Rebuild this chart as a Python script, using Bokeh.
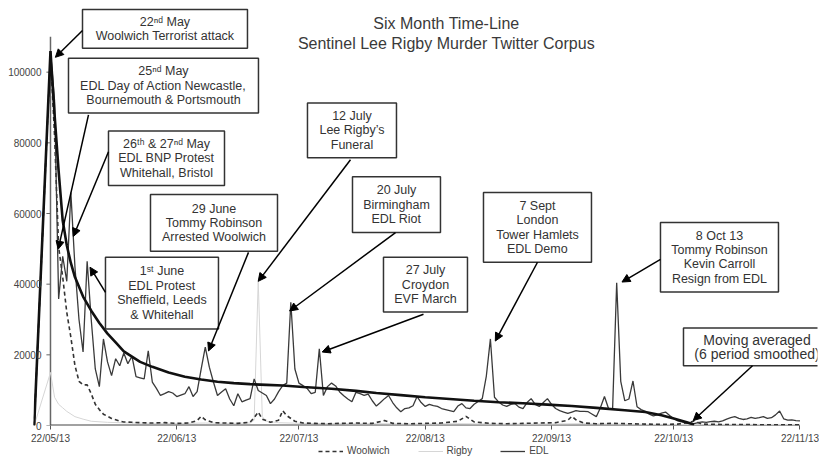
import datetime as dt
from bokeh.plotting import figure
from bokeh.layouts import column
from bokeh.models import (Range1d, FixedTicker, DatetimeTickFormatter, BasicTickFormatter,
                          Arrow, NormalHead, Legend, LegendItem, ColumnDataSource)
from bokeh.core.properties import value
from bokeh.embed import file_html
from bokeh.resources import INLINE

# ---------------- data ----------------
START_DATE = dt.datetime(2013, 5, 22)          # day 0
X_TICK_DATES = ["2013-05-22", "2013-06-22", "2013-07-22", "2013-08-22",
                "2013-09-22", "2013-10-22", "2013-11-22"]
Y_TICKS = [0, 20000, 40000, 60000, 80000, 100000]
Y_AXIS_TOP = 110000

# EDL (daily, day offsets from 22/05/13)
edl_days = [-4] + list(range(185))
edl_vals = [0,
    106000, 92000, 35800, 47900, 40800, 65900, 45000, 30000, 20800, 46500,
    30000, 16000, 11000, 24500, 18000, 14100, 18900, 16900, 20500, 17500,
    19600, 13800, 13500, 13200, 21100, 12300, 10500, 8500, 9000, 9600,
    9200, 8200, 8600, 9000, 11000, 8200, 9600, 16000, 22200, 16500,
    12300, 8500, 9500, 10400, 7500, 5600, 9000, 6700, 7200, 7600,
    13200, 9900, 9200, 8500, 6200, 7500, 9600, 11300, 12000, 34900,
    16000, 12000, 11300, 10500, 9000, 9400, 21700, 8500, 11000, 12000,
    11200, 9500, 8400, 7500, 6700, 9400, 9000, 8500, 8900, 7000,
    5500, 6500, 7600, 8500, 6500, 5000, 3900, 4800, 5000, 5600,
    8200, 6500, 5400, 6000, 5600, 5400, 4800, 4500, 4200, 3900,
    5500, 6200, 5000, 4800, 6000, 6800, 7600, 14000, 24500, 8000,
    6700, 5800, 5400, 6000, 6200, 5200, 4800, 6500, 7600, 6000,
    5400, 6500, 7600, 6000, 4800, 4200, 3800, 3400, 3800, 4200,
    4000, 4000, 3900, 3200, 2500, 5000, 8200, 4800, 4700, 40400,
    12500, 7000, 7500, 12600, 5300, 4500, 4000, 3200, 2700, 3000,
    3500, 3800, 2800, 2000, 1300, 1000, 700, 500, 500, 800,
    1000, 900, 1100, 1200, 1000, 1300, 1800, 2200, 2500, 2000,
    1700, 1900, 2300, 2000, 2200, 2500, 2000, 2200, 3000, 4100,
    1900, 1500, 1600, 1400, 1300]

# Woolwich
woolwich_days = [-4, 0, 1, 2, 3, 4, 5, 6, 7, 8, 9, 10, 11, 12, 13, 14, 15, 16, 17, 18,
                 20, 22, 25, 28, 31, 34, 36, 37, 38, 40, 43, 46, 49, 50, 51, 52, 54, 56,
                 57, 58, 60, 62, 65, 68, 71, 75, 79, 82, 84, 88, 92, 96, 100, 102, 104,
                 108, 112, 116, 120, 124, 127, 128, 129, 131, 134, 138, 142, 146, 150,
                 154, 157, 158, 160, 165, 170, 175, 180, 184]
woolwich_vals = [0, 105000, 82000, 50500, 42000, 32000, 25000, 17000, 12500, 11500, 11500,
                 9000, 6000, 4500, 3200, 2600, 2000, 1600, 1200, 1000,
                 900, 800, 700, 800, 600, 700, 1400, 2600, 1600, 800, 700, 600, 900, 2200,
                 3800, 1800, 900, 1500, 4200, 2800, 1200, 700, 600, 500, 600, 700, 600,
                 1400, 600, 500, 600, 700, 1200, 2600, 1000, 600, 500, 600, 700, 800,
                 1500, 2600, 1600, 700, 500, 600, 500, 400, 300, 400, 900, 1300, 400,
                 300, 300, 200, 200, 200]

# Rigby
rigby_days = [-4, 0, 1, 2, 3, 4, 6, 8, 10, 14, 20, 26, 32, 38, 44, 49, 50, 51, 52, 53,
              56, 62, 70, 80, 90, 100, 110, 120, 130, 140, 150, 160, 170, 184]
rigby_vals = [0, 15000, 8000, 6000, 5000, 4000, 2500, 1800, 1200, 900, 700, 600, 600,
              700, 600, 700, 1500, 41000, 2500, 1200, 800, 600, 500, 500, 400, 500, 400,
              400, 500, 400, 300, 300, 300, 300]

# Moving average (6 period smoothed)
ma_days = [-4, 0, 1, 2, 3, 4, 5, 6, 8, 10, 12, 14, 16, 18, 20, 22, 25, 29, 33, 37, 41,
           45, 49, 53, 57, 62, 69, 75, 80, 86, 92, 98, 104, 110, 116, 122, 128, 134,
           141, 146, 150, 153, 156, 158]
ma_vals = [0, 106000, 88000, 72000, 58000, 51000, 46000, 42000, 36500, 32500, 29000,
           26000, 23500, 21000, 19500, 18000, 16600, 15000, 13800, 13000, 12400, 12000,
           11700, 11500, 11300, 10900, 10400, 9800, 9200, 8600, 8000, 7500, 7000, 6600,
           6300, 5900, 5500, 5000, 4300, 3800, 2900, 2000, 1000, 300]

# Annotations: text lines, box (left day, right day, top, bottom), arrow (from -> to)
ann_lines = [
    ["22ⁿᵈ May", "Woolwich Terrorist attack"],
    ["25ⁿᵈ May", "EDL Day of Action Newcastle,", "Bournemouth & Portsmouth"],
    ["26ᵗʰ & 27ⁿᵈ May", "EDL BNP Protest", "Whitehall, Bristol"],
    ["29 June", "Tommy Robinson", "Arrested Woolwich"],
    ["1ˢᵗ June", "EDL Protest", "Sheffield, Leeds", "& Whitehall"],
    ["12 July", "Lee Rigby’s", "Funeral"],
    ["20 July", "Birmingham", "EDL Riot"],
    ["27 July", "Croydon", "EVF March"],
    ["7 Sept", "London", "Tower Hamlets", "EDL Demo"],
    ["8 Oct 13", "Tommy Robinson", "Kevin Carroll", "Resign from EDL"],
]
ann_boxes = [
    (7.86, 48.36, 117750, 106760),
    (4.42, 51.06, 103950, 88450),
    (14.24, 42.72, 83380, 67890),
    (24.55, 55.73, 65350, 49300),
    (13.50, 41.24, 47610, 27325),
    (63.09, 84.94, 91270, 75780),
    (74.14, 95.74, 70425, 54650),
    (81.75, 102.37, 47610, 32110),
    (106.30, 132.81, 65920, 46200),
    (149.75, 178.72, 57470, 37750),
]
ma_note_lines = ["Moving averaged", "(6 period smoothed)"]
ma_note_box = (155.40, 191.49, 27600, 16900)

arrows = [
    (7.86, 111800, 1.2, 104200),
    (9.33, 87900, 1.9, 49900),
    (14.24, 77500, 5.6, 53500),
    (13.50, 37700, 9.7, 44800),
    (48.61, 49000, 38.8, 21100),
    (73.65, 75200, 51.0, 40800),
    (84.70, 54600, 58.7, 32400),
    (91.57, 31500, 66.7, 20800),
    (119.56, 46200, 109.2, 23900),
    (149.75, 47000, 140.3, 40600),
    (172.34, 16900, 157.8, 1400),
]

title_lines = ["Six Month Time-Line", "Sentinel Lee Rigby Murder Twitter Corpus"]
title_day = 97.2
title_y = [113800, 108200]

# ---------------- helpers ----------------
EPOCH = dt.datetime(1970, 1, 1)
DAY_MS = 86400000.0
START_MS = (START_DATE - EPOCH).total_seconds() * 1000.0


def t(day):
    return START_MS + day * DAY_MS


def date_ms(s):
    return (dt.datetime.strptime(s, "%Y-%m-%d") - EPOCH).total_seconds() * 1000.0


FONT = value("Liberation Sans")
TXT = "#333333"
W = 819

X_START, X_END = -4.17, 188.3
Y_END = 120000

p = figure(width=W, height=446, x_axis_type="datetime", output_backend="svg",
           toolbar_location=None, x_range=Range1d(t(X_START), t(X_END)),
           y_range=Range1d(0, Y_END), min_border_left=33, min_border_right=2,
           min_border_top=1, min_border_bottom=19)
p.outline_line_color = None
p.grid.visible = False
p.background_fill_color = "white"

# axes
xa = p.xaxis[0]
xa.ticker = FixedTicker(ticks=[date_ms(s) for s in X_TICK_DATES])
xa.formatter = DatetimeTickFormatter(days="%d/%m/%y", months="%d/%m/%y", years="%d/%m/%y")
xa.axis_line_color = None
xa.major_tick_out = 4
xa.major_tick_in = 0
xa.major_tick_line_color = "#555555"
xa.minor_tick_line_color = None
xa.major_label_standoff = 3
xa.major_label_text_font = "Liberation Sans"
xa.major_label_text_font_size = "10px"
xa.major_label_text_color = "#444444"

ya = p.yaxis[0]
ya.ticker = FixedTicker(ticks=Y_TICKS)
ya.formatter = BasicTickFormatter(use_scientific=False)
ya.axis_line_color = None
ya.major_tick_out = 0
ya.major_tick_in = 0
ya.minor_tick_line_color = None
ya.major_label_standoff = -8
ya.major_label_text_font = "Liberation Sans"
ya.major_label_text_font_size = "10px"
ya.major_label_text_color = "#444444"

# axis lines drawn at the 22/05/13 origin
p.segment(x0=[t(0)], y0=[0], x1=[t(0)], y1=[Y_AXIS_TOP], line_color="#666666", line_width=1.5)
p.segment(x0=[t(0)], y0=[0], x1=[t(edl_days[-1])], y1=[0], line_color="#444444", line_width=2)
p.segment(x0=[t(-1)] * len(Y_TICKS), y0=Y_TICKS, x1=[t(0)] * len(Y_TICKS), y1=Y_TICKS,
          line_color="#666666", line_width=1)

# series
LINE_STYLES = {
    "Rigby": dict(line_color="#d6d6d6", line_width=1),
    "Woolwich": dict(line_color="#333333", line_width=1.6, line_dash="4 3"),
    "EDL": dict(line_color="#3a3a3a", line_width=1.3),
}
SERIES = {
    "Rigby": (rigby_days, rigby_vals),
    "Woolwich": (woolwich_days, woolwich_vals),
    "EDL": (edl_days, edl_vals),
}
for name in ["Rigby", "Woolwich", "EDL"]:
    days, vals = SERIES[name]
    p.line([t(d) for d in days], vals, **LINE_STYLES[name])
p.line([t(d) for d in ma_days], ma_vals, line_color="#111111", line_width=2.6)

# annotation boxes
all_boxes = ann_boxes + [ma_note_box]
p.quad(left=[t(b[0]) for b in all_boxes], right=[t(b[1]) for b in all_boxes],
       top=[b[2] for b in all_boxes], bottom=[b[3] for b in all_boxes],
       fill_color="white", line_color="#333333", line_width=1.5)


def box_text(lines, box, step):
    cx = t((box[0] + box[1]) / 2.0)
    cy = (box[2] + box[3]) / 2.0
    n = len(lines)
    xs, ys = [], []
    for i in range(n):
        xs.append(cx)
        ys.append(cy + ((n - 1) / 2.0 - i) * step)
    return xs, ys


tx, ty, tt = [], [], []
for lines, box in zip(ann_lines, ann_boxes):
    xs, ys = box_text(lines, box, 4085)
    tx += xs
    ty += ys
    tt += lines
p.text(x=tx, y=ty, text=tt, text_font=FONT, text_font_size=value("12.5px"),
       text_color=TXT, text_align="center", text_baseline="middle")

mx, my = box_text(ma_note_lines, ma_note_box, 4000)
p.text(x=mx, y=my, text=ma_note_lines, text_font=FONT, text_font_size=value("14px"),
       text_color=TXT, text_align="center", text_baseline="middle")

# title (inside chart area)
p.text(x=[t(title_day)] * 2, y=title_y, text=title_lines, text_font=FONT,
       text_font_size=value("16px"), text_color="#3a3a3a", text_align="center",
       text_baseline="middle")

# arrows
asrc = ColumnDataSource(dict(x0=[t(a[0]) for a in arrows], y0=[a[1] for a in arrows],
                             x1=[t(a[2]) for a in arrows], y1=[a[3] for a in arrows]))
p.add_layout(Arrow(end=NormalHead(size=8, fill_color="black", line_color="black"),
                   source=asrc, x_start="x0", y_start="y0", x_end="x1", y_end="y1",
                   line_color="black", line_width=1.5))

# legend strip under the x axis (series drawn far outside its 0..1 view, only the key shows)
lg = figure(width=W, height=10, output_backend="svg", toolbar_location=None,
            x_range=Range1d(0, 1), y_range=Range1d(0, 1), min_border=0,
            x_axis_location=None, y_axis_location=None)
lg.outline_line_color = None
lg.grid.visible = False
items = []
for name in ["Woolwich", "Rigby", "EDL"]:
    days, vals = SERIES[name]
    r = lg.line([t(d) for d in days], vals, **LINE_STYLES[name])
    items.append(LegendItem(label=name, renderers=[r]))
legend = Legend(items=items, orientation="horizontal", location=(285, 0),
                border_line_color=None, background_fill_alpha=0,
                label_text_font="Liberation Sans", label_text_font_size="10px",
                label_text_color="#444444", glyph_width=25, glyph_height=10,
                label_height=10, label_standoff=4, spacing=28, padding=0, margin=0)
lg.add_layout(legend)

open("out.html", "w").write(file_html(column(p, lg), INLINE))
